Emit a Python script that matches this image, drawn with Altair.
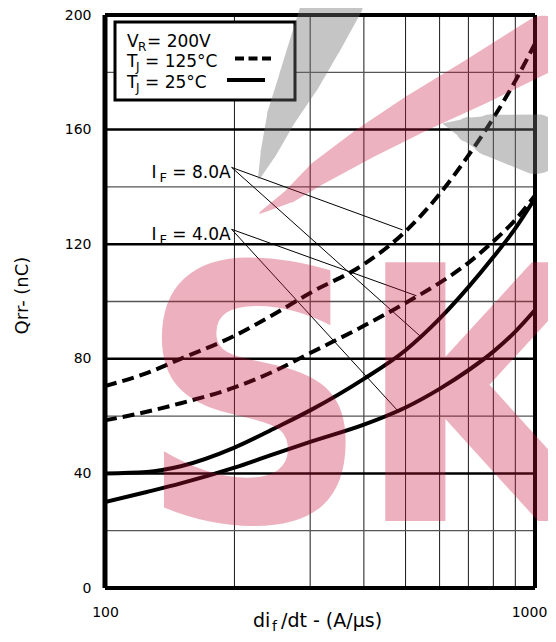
import math
import altair as alt
import pandas as pd

# ---- data ----
difdt = [100, 125, 150, 200, 250, 300, 400, 500, 600, 700, 800, 900, 1000]
qrr_8a_125 = [70.5, 75, 80, 88, 96, 103, 113, 124.5, 137.5, 151, 164, 177, 190]
qrr_4a_125 = [58.5, 61.5, 64.5, 70, 76, 82, 91.5, 99.5, 106.5, 113.5, 121, 128.5, 137]
qrr_8a_25 = [40, 40.5, 42.5, 49, 56, 62, 73, 83, 94, 105, 115.5, 125.5, 136]
qrr_4a_25 = [30, 33.5, 36.5, 42, 47, 51, 57, 63, 69.5, 76, 82.5, 89.5, 97]

x_ticks = [100, 1000]
y_ticks = [0, 40, 80, 120, 160, 200]
v_grid = [200, 300, 400, 500, 600, 700, 800, 900]
h_grid_major = [40, 80, 120, 160]
h_grid_minor = [20, 60, 100, 140, 180]

label_if = ["8.0A", "4.0A"]
label_x = [197, 197]
label_y = [146.8, 125.2]
leader_label = ["8.0A", "8.0A", "4.0A", "4.0A"]
leader_x2 = [492, 540, 530, 480]
leader_y2 = [125, 88, 102, 61.8]

# background watermark (decoration), in data units of the chart
watermark_letters = ["S", "K"]
wm_pink_x = [230, 270, 315, 400, 535, 735, 1050]
wm_pink_y = [131, 137, 145, 155, 166, 177, 190]
wm_pink_w = [2, 14, 24, 32, 40, 48, 56]
wm_grey1_x = [228, 240, 258, 284, 312, 340]
wm_grey1_y = [143, 152, 165, 178, 192, 205]
wm_grey1_w = [2, 16, 30, 42, 52, 60]
wm_grey2_x = [615, 700, 790, 1000]
wm_grey2_y = [162, 160, 158, 155]
wm_grey2_w = [2, 25, 42, 60]

rows = []
for name, vals, tj in [
    ("8A-125", qrr_8a_125, "125"),
    ("4A-125", qrr_4a_125, "125"),
    ("8A-25", qrr_8a_25, "25"),
    ("4A-25", qrr_4a_25, "25"),
]:
    for xv, yv in zip(difdt, vals):
        rows.append({"difdt": xv, "qrr": yv, "curve": name, "TJ": tj})
curves = pd.DataFrame(rows)

W, H = 430, 573
FONT = "DejaVu Sans"
xs = alt.Scale(type="log", domain=[100, 1000])
ys = alt.Scale(domain=[0, 200])
x_axis = alt.Axis(values=x_ticks, title=None, grid=False, ticks=False, domain=False,
                  labelFont=FONT, labelFontSize=14, labelColor="black",
                  labelPadding=17, format="d", labelFlush=False,
                  labelOffset={"condition": {"test": "datum.value == 1000", "value": -6}, "value": 0})
y_axis = alt.Axis(values=y_ticks, title="Qrr- (nC)", grid=False, ticks=False, domain=False,
                  labelFont=FONT, labelFontSize=14, labelColor="black", labelPadding=14,
                  titleFont=FONT, titleFontSize=18, titleFontWeight="normal",
                  titleColor="black", titleAngle=270, titleX=-83, titleY=280,
                  titleAlign="center", titleBaseline="middle")


def X(field):
    return alt.X(field, scale=xs, axis=x_axis)


def Y(field):
    return alt.Y(field, scale=ys, axis=y_axis)


vgrid = alt.Chart(pd.DataFrame({"x": v_grid})).mark_rule(color="#1a1a1a", strokeWidth=1).encode(
    x=X("x:Q"))
hminor = alt.Chart(pd.DataFrame({"y": h_grid_minor})).mark_rule(color="#555555", strokeWidth=1.3).encode(
    y=Y("y:Q"))
hmajor = alt.Chart(pd.DataFrame({"y": h_grid_major})).mark_rule(color="#000000", strokeWidth=2.5).encode(
    y=Y("y:Q"))

base_lines = alt.Chart(curves)
dashed = base_lines.transform_filter(alt.datum.TJ == "125").mark_line(
    color="black", strokeWidth=4, strokeDash=[12, 6], interpolate="monotone", clip=True
).encode(x=X("difdt:Q"), y=Y("qrr:Q"), detail="curve:N")
solid = base_lines.transform_filter(alt.datum.TJ == "25").mark_line(
    color="black", strokeWidth=4, interpolate="monotone", clip=True
).encode(x=X("difdt:Q"), y=Y("qrr:Q"), detail="curve:N")

lead_df = pd.DataFrame({
    "label": leader_label,
    "x": [label_x[label_if.index(l)] for l in leader_label],
    "y": [label_y[label_if.index(l)] for l in leader_label],
    "x2": leader_x2, "y2": leader_y2,
})
leaders = alt.Chart(lead_df).mark_rule(color="black", strokeWidth=1).encode(
    x=X("x:Q"), y=Y("y:Q"), x2="x2:Q", y2="y2:Q")

lab_df = pd.DataFrame({"x": label_x, "y": label_y, "txt": ["= " + s for s in label_if]})
lab_main = alt.Chart(lab_df).mark_text(align="right", baseline="alphabetic", dx=-1, dy=11,
                                       font=FONT, fontSize=17, color="black").encode(
    x=X("x:Q"), y=Y("y:Q"), text="txt:N")
lab_i = alt.Chart(lab_df).mark_text(align="left", baseline="alphabetic", dx=-80, dy=11,
                                    font=FONT, fontSize=17, color="black", text="I").encode(
    x=X("x:Q"), y=Y("y:Q"))
lab_f = alt.Chart(lab_df).mark_text(align="left", baseline="alphabetic", dx=-72, dy=15,
                                    font=FONT, fontSize=13, color="black", text="F").encode(
    x=X("x:Q"), y=Y("y:Q"))

one = pd.DataFrame({"k": [0]})
legend_box = alt.Chart(one).mark_rect(fill="white", stroke="black", strokeWidth=3).encode(
    x=alt.value(10), x2=alt.value(190), y=alt.value(7), y2=alt.value(85))


def txt(s, x, y, size=17, align="left"):
    return alt.Chart(one).mark_text(text=s, align=align, baseline="alphabetic", font=FONT,
                                    fontSize=size, color="black").encode(
        x=alt.value(x), y=alt.value(y))


legend_texts = [
    txt("V", 22, 32), txt("R", 33, 36, 12), txt("= 200V", 42, 32),
    txt("T", 22, 52), txt("J", 31, 56, 12), txt("= 125°C", 40, 52),
    txt("T", 22, 73), txt("J", 31, 77, 12), txt("= 25°C", 40, 73),
]
dash_sample = alt.Chart(one).mark_rule(color="black", strokeWidth=4, strokeDash=[9, 4.5]).encode(
    x=alt.value(130), x2=alt.value(166), y=alt.value(43.5))
solid_sample = alt.Chart(one).mark_rule(color="black", strokeWidth=4).encode(
    x=alt.value(122), x2=alt.value(160), y=alt.value(65))

xtitle = [txt("di", 148, 612, 19), txt("f", 167, 616, 14), txt("/dt - (A/µs)", 176, 612, 19)]

frame_lr = alt.Chart(pd.DataFrame({"x": [100, 1000], "w": [5, 4]})).mark_rule(color="black").encode(
    x=X("x:Q"), strokeWidth=alt.StrokeWidth("w:Q", scale=None))
frame_tb = alt.Chart(pd.DataFrame({"y": [0, 200], "w": [4, 4]})).mark_rule(color="black").encode(
    y=Y("y:Q"), strokeWidth=alt.StrokeWidth("w:Q", scale=None))

# semi-transparent watermark overlay
WM_FONT = "Liberation Sans Narrow, DejaVu Sans Condensed, Liberation Sans"
wm_s = alt.Chart(one).mark_text(text=watermark_letters[0], align="left", baseline="alphabetic",
                                font=WM_FONT, fontWeight="bold", fontSize=355,
                                color="#c8143c", opacity=0.33).encode(
    x=alt.value(34), y=alt.value(506))
wm_k = alt.Chart(one).mark_text(text=watermark_letters[1], align="left", baseline="alphabetic",
                                font=WM_FONT, fontWeight="bold", fontSize=355,
                                color="#c8143c", opacity=0.33).encode(
    x=alt.value(251), y=alt.value(506))


def trail(xv, yv, wv, color, op):
    df = pd.DataFrame({"x": xv, "y": yv, "w": wv, "i": list(range(len(xv)))})
    return alt.Chart(df).mark_trail(color=color, opacity=op).encode(
        x=X("x:Q"), y=Y("y:Q"), size=alt.Size("w:Q", scale=None, legend=None),
        order=alt.Order("i:Q"))


wm_pink = trail(wm_pink_x, wm_pink_y, wm_pink_w, "#c8143c", 0.33)
wm_grey1 = trail(wm_grey1_x, wm_grey1_y, wm_grey1_w, "#6e6e6e", 0.4)
wm_grey2 = trail(wm_grey2_x, wm_grey2_y, wm_grey2_w, "#6e6e6e", 0.4)

chart = alt.layer(
    vgrid, hminor, hmajor, dashed, solid, leaders, lab_main, lab_i, lab_f,
    legend_box, *legend_texts, dash_sample, solid_sample, *xtitle, frame_lr, frame_tb,
    wm_grey1, wm_grey2, wm_pink, wm_s, wm_k,
).properties(
    width=W, height=H,
    autosize=alt.AutoSizeParams(type="none"),
    padding={"left": 97, "top": 7, "right": 13, "bottom": 46},
).configure_view(stroke=None).configure(background="white")

chart.save("out.html", embed_options={"renderer": "svg", "actions": False})
